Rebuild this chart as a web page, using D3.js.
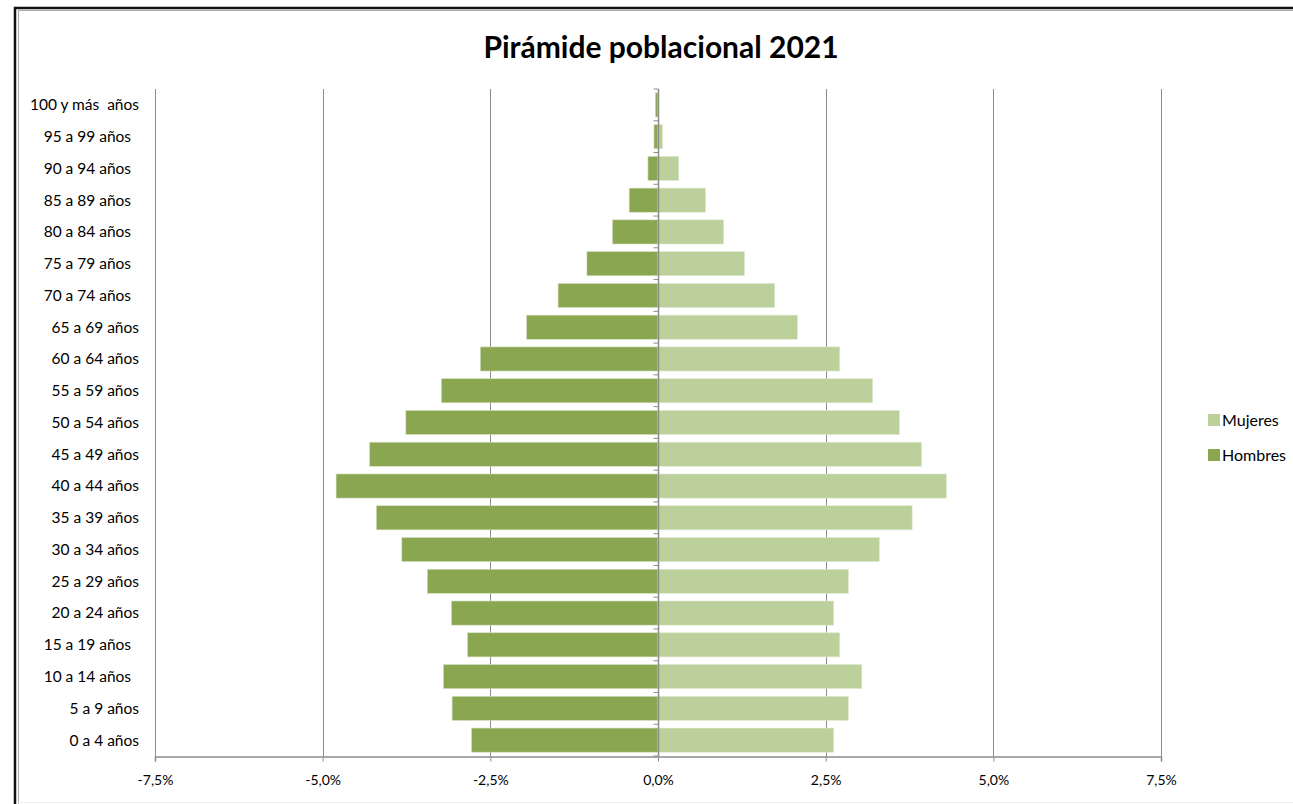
<!DOCTYPE html>
<html>
<head>
<meta charset="utf-8">
<script src="https://cdn.jsdelivr.net/npm/d3@7"></script>
<style>
  html, body { margin: 0; padding: 0; background: #fff; }
  svg { display: block; font-family: Lato, "Open Sans", sans-serif; }
</style>
</head>
<body>
<svg id="chart" width="1293" height="804"></svg>
<script>
// Age groups, oldest at top
const categories = [
  "100 y más  años", "95 a 99 años  ", "90 a 94 años  ", "85 a 89 años  ",
  "80 a 84 años  ", "75 a 79 años  ", "70 a 74 años  ", "65 a 69 años",
  "60 a 64 años", "55 a 59 años", "50 a 54 años", "45 a 49 años",
  "40 a 44 años", "35 a 39 años", "30 a 34 años", "25 a 29 años",
  "20 a 24 años", "15 a 19 años  ", "10 a 14 años  ", "5 a 9 años",
  "0 a 4 años"
];
// Share of total population (%), men drawn to the left
const hombres = [
  0.04, 0.06, 0.15, 0.43, 0.68, 1.06, 1.49, 1.96, 2.65, 3.23, 3.76,
  4.30, 4.80, 4.20, 3.82, 3.44, 3.08, 2.84, 3.20, 3.07, 2.78
];
const mujeres = [
  0.01, 0.07, 0.31, 0.71, 0.98, 1.29, 1.74, 2.08, 2.71, 3.20, 3.60,
  3.93, 4.30, 3.79, 3.30, 2.84, 2.62, 2.71, 3.04, 2.84, 2.62
];
const tickValues = [-7.5, -5, -2.5, 0, 2.5, 5, 7.5];
const seriesNames = ["Mujeres", "Hombres"];

const colHombres = "#8AA650";
const colMujeres = "#BBD09A";
const axisCol = "#8C8C8C";

const svg = d3.select("#chart");

// Chart frame (right and bottom edges run past the canvas)
svg.append("rect").attr("x", 15).attr("y", 8).attr("width", 1300).attr("height", 820)
  .attr("fill", "none").attr("stroke", "#111").attr("stroke-width", 2.5);
svg.append("rect").attr("x", 18.5).attr("y", 10.5).attr("width", 1300).attr("height", 820)
  .attr("fill", "none").attr("stroke", "#aaa").attr("stroke-width", 1);
svg.append("line").attr("x1", 18).attr("x2", 1293).attr("y1", 802.5).attr("y2", 802.5)
  .attr("stroke", "#eee").attr("stroke-width", 1);

// Title
svg.append("text").attr("x", 661).attr("y", 58).attr("text-anchor", "middle")
  .attr("font-size", 30).attr("font-weight", 700).attr("fill", "#000")
  .text("Pirámide poblacional 2021");

const plotL = 155, plotR = 1161, plotT = 89, plotB = 756;

const x = d3.scaleLinear().domain([-7.5, 7.5]).range([plotL, plotR]);
const y = d3.scaleBand().domain(categories).range([plotT, plotB]).paddingInner(0.24).paddingOuter(0.12);

// Vertical gridlines
svg.append("g").selectAll("line").data(tickValues.filter(v => v !== 0)).join("line")
  .attr("x1", d => Math.round(x(d)) + 0.5).attr("x2", d => Math.round(x(d)) + 0.5)
  .attr("y1", plotT).attr("y2", plotB)
  .attr("stroke", axisCol).attr("stroke-width", 1);

// Bars
const rows = categories.map((c, i) => ({ c, h: hombres[i], m: mujeres[i] }));
svg.append("g").selectAll("rect").data(rows).join("rect")
  .attr("x", d => x(-d.h)).attr("width", d => x(0) - x(-d.h))
  .attr("y", d => y(d.c)).attr("height", y.bandwidth())
  .attr("fill", colHombres).attr("stroke", "#d6e0c4").attr("stroke-width", 0.6);
svg.append("g").selectAll("rect").data(rows).join("rect")
  .attr("x", x(0)).attr("width", d => x(d.m) - x(0))
  .attr("y", d => y(d.c)).attr("height", y.bandwidth())
  .attr("fill", colMujeres).attr("stroke", "#e2ead4").attr("stroke-width", 0.6);

// Bottom value axis
const xAxis = d3.axisBottom(x).tickValues(tickValues).tickSize(5).tickPadding(14)
  .tickFormat(d => d3.format(".1f")(d).replace(".", ",").replace("−", "-") + "%");
const gx = svg.append("g").attr("transform", `translate(0,${plotB + 0.5})`).call(xAxis);
gx.select(".domain").attr("stroke", axisCol).attr("stroke-width", 1.5);
gx.selectAll(".tick line").attr("stroke", axisCol);
gx.selectAll("text").attr("font-size", 14).attr("fill", "#000").attr("font-family", "Lato, sans-serif");

// Category axis at zero, ticks at band boundaries
const zx = Math.round(x(0)) + 0.5;
const cat = svg.append("g");
cat.append("line").attr("x1", zx).attr("x2", zx).attr("y1", plotT).attr("y2", plotB)
  .attr("stroke", axisCol).attr("stroke-width", 1.5);
const bounds = d3.range(categories.length + 1).map(i => plotT + i * (plotB - plotT) / categories.length);
cat.selectAll("line.t").data(bounds).join("line").attr("class", "t")
  .attr("x1", zx - 5).attr("x2", zx).attr("y1", d => d).attr("y2", d => d)
  .attr("stroke", axisCol).attr("stroke-width", 1);

// Category labels on the left
svg.append("g").selectAll("text").data(categories).join("text")
  .attr("x", 139).attr("y", d => y(d) + y.bandwidth() / 2)
  .attr("dy", "0.35em").attr("text-anchor", "end")
  .attr("font-size", 15.5).attr("fill", "#000")
  .style("white-space", "pre")
  .text(d => d);

// Legend
const legend = svg.append("g");
const legCols = [colMujeres, colHombres];
seriesNames.forEach((n, i) => {
  const ly = 420 + i * 35;
  legend.append("rect").attr("x", 1208).attr("y", ly - 6).attr("width", 12).attr("height", 12)
    .attr("fill", legCols[i]);
  legend.append("text").attr("x", 1222).attr("y", ly).attr("dy", "0.35em")
    .attr("font-size", 16).attr("fill", "#000").text(n);
});
</script>
</body>
</html>
